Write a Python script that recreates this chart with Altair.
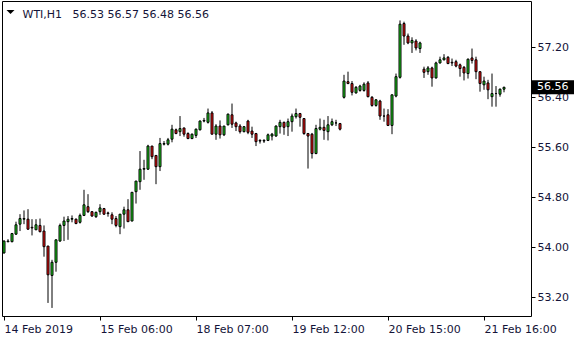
import json
import altair as alt
import pandas as pd

# ---- data (hourly WTI candles) ----
opens = [53.91, 54.09, 54.09, 54.21, 54.37, 54.45, 54.45, 54.32, 54.28, 54.35,
         54.26, 54.02, 53.55, 53.76, 54.10, 54.35, 54.41, 54.45, 54.45, 54.40,
         54.51, 54.65, 54.57, 54.49, 54.57, 54.62, 54.55, 54.52, 54.46, 54.33,
         54.53, 54.60, 54.42, 54.89, 55.05, 55.25, 55.25, 55.62, 55.47, 55.29,
         55.65, 55.65, 55.73, 55.88, 55.85, 55.91, 55.82, 55.74, 55.79, 55.88,
         56.02, 56.00, 56.15, 55.81, 55.94, 55.80, 55.96, 56.12, 55.99, 55.94,
         55.85, 56.02, 55.86, 55.82, 55.70, 55.70, 55.71, 55.78, 55.78, 55.93,
         56.00, 55.93, 56.01, 56.09, 56.14, 56.06, 55.82, 55.81, 55.50, 55.89,
         55.92, 55.85, 55.96, 55.99, 55.98, 56.40, 56.65, 56.62, 56.47, 56.51,
         56.51, 56.63, 56.40, 56.27, 56.34, 56.10, 56.12, 55.95, 56.42, 56.72,
         57.58, 57.38, 57.27, 57.30, 57.18, 56.85, 56.81, 56.87, 56.71, 56.95,
         57.00, 57.04, 56.96, 56.97, 56.92, 56.88, 56.78, 57.03, 57.00, 56.81,
         56.60, 56.63, 56.41, 56.46, 56.45, 56.53]
highs = [54.11, 54.13, 54.23, 54.41, 54.53, 54.59, 54.61, 54.45, 54.45, 54.46,
         54.35, 54.02, 53.80, 54.12, 54.38, 54.49, 54.50, 54.51, 54.46, 54.54,
         54.92, 54.85, 54.58, 54.57, 54.69, 54.63, 54.57, 54.56, 54.50, 54.53,
         54.65, 54.77, 54.88, 55.06, 55.54, 55.40, 55.64, 55.62, 55.47, 55.75,
         55.70, 55.75, 55.96, 55.90, 56.10, 55.91, 55.84, 55.82, 55.90, 56.03,
         56.07, 56.22, 56.18, 55.97, 56.03, 55.94, 56.14, 56.30, 56.01, 55.97,
         55.94, 56.04, 55.93, 55.83, 55.73, 55.73, 55.82, 55.83, 55.95, 56.04,
         56.01, 56.06, 56.14, 56.22, 56.15, 56.06, 55.83, 55.83, 55.96, 56.06,
         56.04, 56.10, 56.06, 56.04, 55.99, 56.76, 56.81, 56.66, 56.58, 56.60,
         56.64, 56.66, 56.42, 56.37, 56.36, 56.22, 56.21, 56.44, 56.78, 57.63,
         57.61, 57.42, 57.36, 57.33, 57.29, 56.89, 56.90, 56.89, 56.97, 57.05,
         57.09, 57.06, 57.02, 57.00, 56.94, 56.90, 57.02, 57.18, 57.05, 56.81,
         56.73, 56.68, 56.78, 56.58, 56.54, 56.57]
lows = [53.90, 54.08, 54.08, 54.20, 54.26, 54.37, 54.28, 54.19, 54.28, 54.24,
        53.85, 53.11, 53.03, 53.61, 54.09, 54.10, 54.12, 54.40, 54.37, 54.38,
        54.50, 54.55, 54.49, 54.47, 54.52, 54.52, 54.49, 54.37, 54.32, 54.21,
        54.30, 54.41, 54.42, 54.70, 54.92, 55.08, 55.24, 55.41, 55.01, 55.22,
        55.63, 55.63, 55.68, 55.81, 55.78, 55.77, 55.73, 55.73, 55.75, 55.87,
        56.00, 55.98, 55.81, 55.72, 55.74, 55.78, 55.95, 55.91, 55.86, 55.82,
        55.84, 55.81, 55.75, 55.62, 55.66, 55.67, 55.70, 55.71, 55.77, 55.82,
        55.80, 55.78, 55.85, 56.06, 55.93, 55.80, 55.26, 55.42, 55.49, 55.87,
        55.72, 55.71, 55.94, 55.94, 55.87, 56.38, 56.61, 56.43, 56.46, 56.49,
        56.49, 56.40, 56.25, 56.25, 56.04, 56.01, 55.94, 55.81, 56.40, 56.70,
        57.24, 57.25, 57.11, 57.15, 57.11, 56.71, 56.76, 56.57, 56.70, 56.94,
        56.99, 56.93, 56.90, 56.88, 56.73, 56.67, 56.70, 56.94, 56.69, 56.49,
        56.52, 56.37, 56.25, 56.25, 56.41, 56.48]
closes = [54.10, 54.10, 54.22, 54.36, 54.46, 54.46, 54.29, 54.31, 54.36, 54.25,
          54.01, 53.56, 53.76, 54.12, 54.35, 54.42, 54.45, 54.46, 54.38, 54.51,
          54.68, 54.57, 54.50, 54.56, 54.63, 54.53, 54.54, 54.45, 54.35, 54.53,
          54.60, 54.41, 54.88, 55.06, 55.25, 55.26, 55.62, 55.45, 55.29, 55.66,
          55.66, 55.72, 55.89, 55.82, 55.90, 55.81, 55.74, 55.81, 55.89, 56.02,
          56.03, 56.15, 55.81, 55.94, 55.80, 55.94, 56.13, 55.97, 55.93, 55.85,
          55.93, 55.84, 55.81, 55.69, 55.71, 55.71, 55.80, 55.81, 55.94, 56.00,
          55.92, 56.01, 56.10, 56.14, 56.08, 55.82, 55.78, 55.50, 55.90, 55.92,
          55.87, 55.96, 56.01, 55.99, 55.89, 56.66, 56.62, 56.48, 56.56, 56.58,
          56.61, 56.41, 56.27, 56.36, 56.10, 56.10, 55.95, 56.44, 56.73, 57.57,
          57.38, 57.27, 57.31, 57.19, 57.27, 56.80, 56.87, 56.71, 56.95, 57.00,
          57.03, 56.94, 56.95, 56.90, 56.86, 56.79, 57.01, 56.99, 56.81, 56.62,
          56.66, 56.52, 56.46, 56.46, 56.53, 56.56]

symbol = "WTI,H1"
time_tick_bars = [0, 24, 48, 72, 96, 120]
time_tick_labels = ["14 Feb 2019", "15 Feb 06:00", "18 Feb 07:00",
                    "19 Feb 12:00", "20 Feb 15:00", "21 Feb 16:00"]
price_ticks = [53.2, 54.0, 54.8, 55.6, 56.4, 57.2]

TXT = "#141438"
FONT = "DejaVu Sans"

n = len(closes)
df = pd.DataFrame({
    "bar": list(range(n)),
    "open": opens, "high": highs, "low": lows, "close": closes,
})
df["dir"] = ["up" if c >= o else "down" for o, c in zip(opens, closes)]

xscale = alt.Scale(domain=[-0.5, 131.75], nice=False, zero=False, padding=0)
yscale = alt.Scale(domain=[52.9008, 57.9408], nice=False, zero=False, padding=0)

label_expr = ("%s[indexof(%s, datum.value)]"
              % (json.dumps(time_tick_labels).replace('"', "'"),
                 json.dumps(time_tick_bars)))

xenc = alt.X("bar:Q", scale=xscale, title=None,
             axis=alt.Axis(values=time_tick_bars, labelExpr=label_expr,
                           domain=False, grid=False, ticks=True, tickSize=4,
                           tickColor="black", labelAlign="left",
                           labelBaseline="top", labelPadding=3,
                           labelFont=FONT, labelFontSize=11, labelColor=TXT,
                           labelOverlap=False, labelFlush=False))
yenc_axis = alt.Axis(values=price_ticks, format=".2f", orient="right",
                     domain=False, grid=False, tickSize=4, tickColor="black",
                     labelPadding=2, labelFont=FONT, labelFontSize=11,
                     labelColor=TXT, labelOverlap=False, labelFlush=False)

base = alt.Chart(df)

wicks = base.mark_rule(color="black", strokeWidth=1).encode(
    x=xenc,
    y=alt.Y("low:Q", scale=yscale, axis=yenc_axis, title=None),
    y2="high:Q",
)

bodies = base.mark_bar(size=2, stroke="black", strokeWidth=1).encode(
    x=alt.X("bar:Q", scale=xscale),
    y=alt.Y("open:Q", scale=yscale),
    y2="close:Q",
    fill=alt.Fill("dir:N", scale=alt.Scale(domain=["up", "down"],
                                           range=["#1ee01e", "#ff1010"]),
                  legend=None),
)

last = pd.DataFrame({
    "price": [closes[-1]],
    "ohlc": ["%.2f %.2f %.2f %.2f" % (opens[-1], highs[-1], lows[-1], closes[-1])],
    "sym": [symbol],
})
lc = alt.Chart(last)

tri = lc.mark_point(shape="M-1,-0.5L1,-0.5L0,0.5Z", filled=True, size=64,
                    color="black", opacity=1).encode(
    x=alt.value(8.5), y=alt.value(11))

sym_text = lc.mark_text(align="left", baseline="alphabetic", font=FONT,
                        fontSize=11, color=TXT).encode(
    x=alt.value(20.5), y=alt.value(16.5), text="sym:N")

ohlc_text = lc.mark_text(align="left", baseline="alphabetic", font=FONT,
                         fontSize=11, color=TXT).encode(
    x=alt.value(70.5), y=alt.value(16.5), text="ohlc:N")

price_box = lc.mark_point(shape="M-1,-0.33L1,-0.33L1,0.33L-1,0.33Z",
                          filled=True, size=1806, color="black",
                          opacity=1).encode(
    x=alt.value(550.75), y=alt.Y("price:Q", scale=yscale))

price_text = lc.mark_text(align="left", baseline="middle", font=FONT,
                          fontSize=11, color="white").encode(
    x=alt.value(535), y=alt.Y("price:Q", scale=yscale),
    text=alt.Text("price:Q", format=".2f"))

chart = alt.layer(wicks, bodies, tri, sym_text, ohlc_text, price_box,
                  price_text).properties(
    width=529, height=315,
    autosize=alt.AutoSizeParams(type="none"),
    padding={"left": 2, "top": 1, "right": 49, "bottom": 24},
    background="white",
).configure_view(stroke="black", strokeWidth=1)

chart.save("out.html", embed_options={"renderer": "svg", "actions": False})
